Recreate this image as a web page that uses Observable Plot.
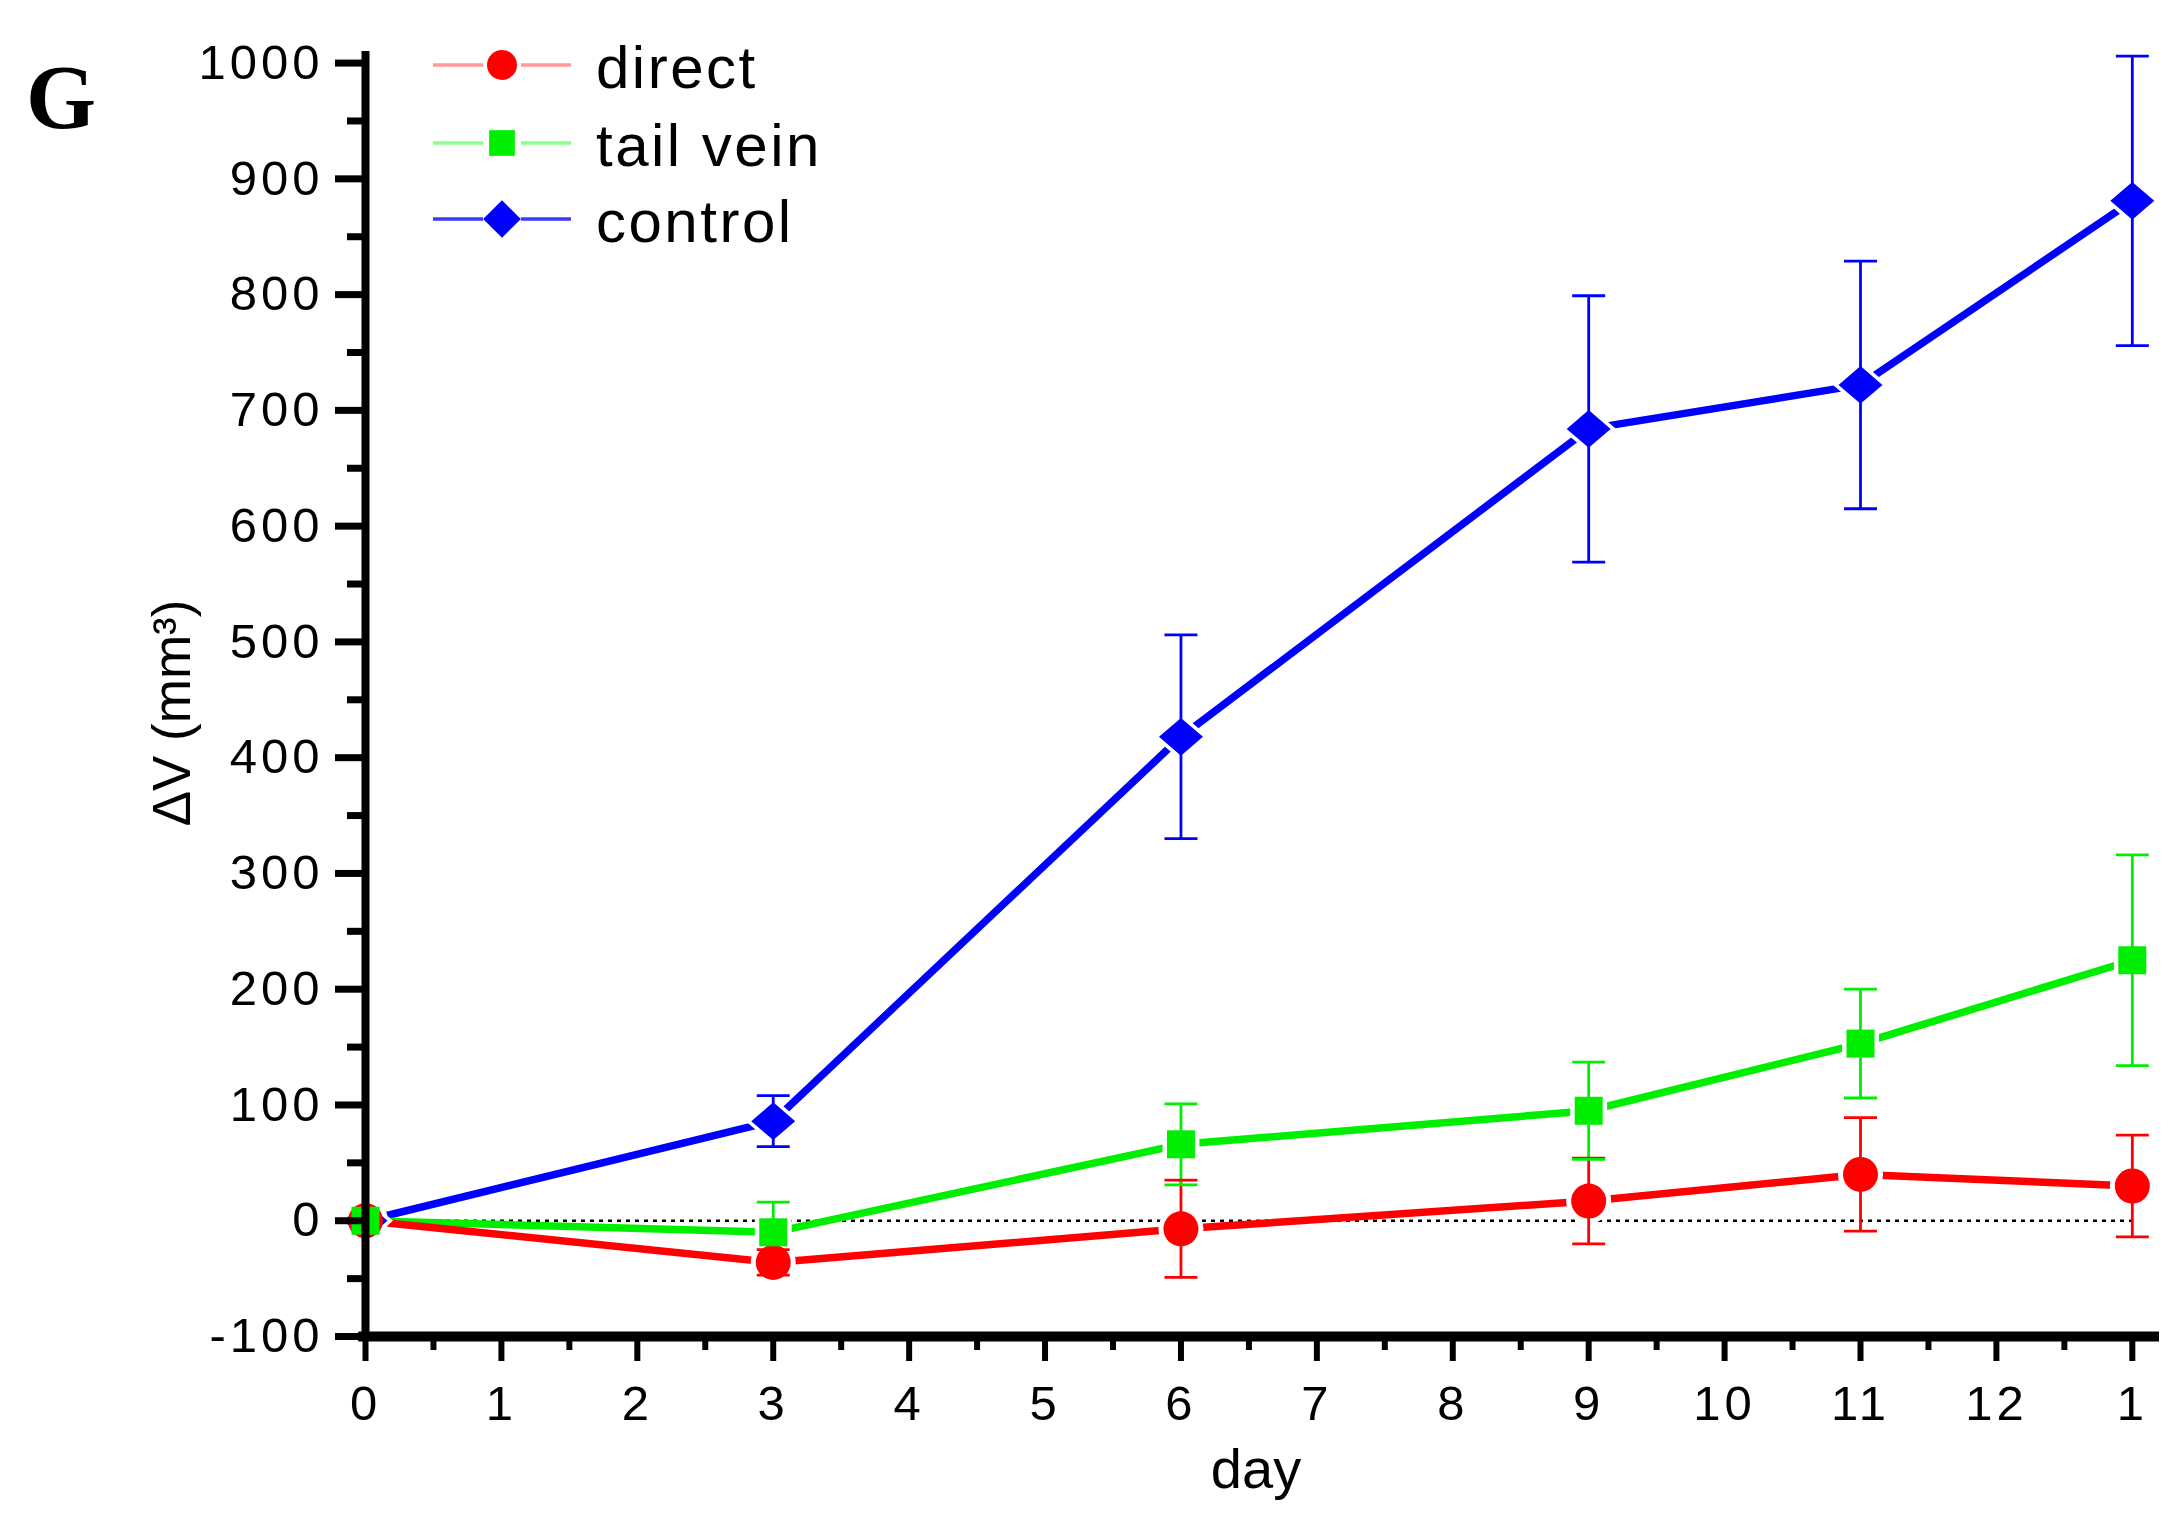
<!DOCTYPE html>
<html><head><meta charset="utf-8">
<script src="https://cdn.jsdelivr.net/npm/d3@7"></script>
<script src="https://cdn.jsdelivr.net/npm/@observablehq/plot@0.6"></script>
<style>
html,body{margin:0;padding:0;background:#fff;}
#chart{position:relative;width:2175px;height:1520px;}
.ticklbl text{letter-spacing:4px;}
</style></head><body><div id="chart"></div>
<script>
// ---- data ----
const days = [0, 3, 6, 9, 11, 13];
const seriesNames = ["direct", "tail vein", "control"];
const directMean  = [0, -36, -7, 17, 40, 30];
const directErr   = [0, 11, 42, 37, 49, 44];
const tailMean    = [0, -10, 66, 95, 153, 225];
const tailErr     = [0, 26, 35, 42, 47, 91];
const controlMean = [0, 86, 418, 684, 722, 881];
const controlErr  = [0, 22, 88, 115, 107, 125];
const xTicks = [0,1,2,3,4,5,6,7,8,9,10,11,12,13];
const xTickLabels = ["0","1","2","3","4","5","6","7","8","9","10","11","12","1"];
const xMinorTicks = [0.5,1.5,2.5,3.5,4.5,5.5,6.5,7.5,8.5,9.5,10.5,11.5,12.5];
const yTicks = [-100,0,100,200,300,400,500,600,700,800,900,1000];
const yTickLabels = ["-100","0","100","200","300","400","500","600","700","800","900","1000"];
const yMinorTicks = [-50,50,150,250,350,450,550,650,750,850,950];
const yLabel = "ΔV (mm³)";
const xLabel = "day";
const panelLetter = "G";

// ---- styles ----
const seriesColors = ["#ff0000", "#00ee00", "#0000ff"];
const legendLineColors = ["#ff9a9a", "#8cff8c", "#3a3aff"];
// wide diamond (slightly wider than tall, as in the reference)
const wideDiamond = {draw(ctx, size) {
  const w = Math.sqrt(size) * 0.62, h = w * 0.86;
  ctx.moveTo(0, -h); ctx.lineTo(w, 0); ctx.lineTo(0, h); ctx.lineTo(-w, 0); ctx.closePath();
}};
const seriesSymbols = ["circle", "square", wideDiamond];
const seriesR = {"direct": 17.5, "tail vein": 15.8, "control": 20};

const means = [directMean, tailMean, controlMean];
const errs = [directErr, tailErr, controlErr];
const rows = [];
seriesNames.forEach((s, si) => days.forEach((d, i) => rows.push({
  series: s, day: d, mean: means[si][i], err: errs[si][i],
  lo: means[si][i] - errs[si][i], hi: means[si][i] + errs[si][i]
})));
const withErr = rows.filter(d => d.err > 0);
const lineOrder = ["control", "tail vein", "direct"];
const linesRows = lineOrder.flatMap(s => rows.filter(d => d.series === s));
const markerOrder = ["direct", "tail vein", "control"];
const markerRows = markerOrder.flatMap(s => rows.filter(d => d.series === s));

const hline = {draw(ctx, size) { const w = Math.sqrt(size) / 2; ctx.moveTo(-w, 0); ctx.lineTo(w, 0); }};

const font = "'Liberation Sans', Arial, Helvetica, sans-serif";

const plot = Plot.plot({
  width: 2175, height: 1520,
  marginLeft: 365, marginRight: 16, marginTop: 51, marginBottom: 184,
  style: {fontFamily: font, background: "#fff", color: "#000"},
  x: {domain: [0, 13.2], axis: null},
  y: {domain: [-100, 1010], axis: null},
  color: {domain: seriesNames, range: seriesColors},
  symbol: {domain: seriesNames, range: seriesSymbols},
  r: {type: "identity"},
  marks: [
    Plot.ruleY([0], {x1: 0, x2: 13, stroke: "#000", strokeWidth: 2.6, strokeDasharray: "4,5"}),
    Plot.line(linesRows, {x: "day", y: "mean", z: "series", stroke: "series", strokeWidth: 7.5}),
    Plot.dot(markerRows, {x: "day", y: "mean", symbol: "series", fill: "#fff", r: d => seriesR[d.series] + 5}),
    Plot.ruleX(withErr, {x: "day", y1: "lo", y2: "hi", stroke: "series", strokeWidth: 2.8}),
    Plot.dot(withErr, {x: "day", y: "hi", symbol: hline, stroke: "series", fill: "none", strokeWidth: 2.8, r: 18.6}),
    Plot.dot(withErr, {x: "day", y: "lo", symbol: hline, stroke: "series", fill: "none", strokeWidth: 2.8, r: 18.6}),
    Plot.dot(markerRows, {x: "day", y: "mean", symbol: "series", fill: "series", stroke: "none", r: d => seriesR[d.series]}),
    // axes
    Plot.axisY({ticks: yMinorTicks, tickSize: 18, strokeWidth: 7, text: null, label: null}),
    Plot.axisY({ticks: yTicks, tickSize: 30, tickPadding: 12, strokeWidth: 7, fontSize: 49, label: null,
      tickFormat: d => yTickLabels[yTicks.indexOf(d)], className: "ticklbl"}),
    Plot.axisX({ticks: xMinorTicks, tickSize: 14, strokeWidth: 6, text: null, label: null}),
    Plot.axisX({ticks: xTicks, tickSize: 25, tickPadding: 24, strokeWidth: 6, fontSize: 49, label: null,
      tickFormat: d => xTickLabels[xTicks.indexOf(d)], className: "ticklbl"}),
    Plot.ruleX([0], {stroke: "#000", strokeWidth: 8}),
    Plot.ruleY([-100], {x1: -0.05, x2: 13.2, stroke: "#000", strokeWidth: 10})
  ]
});
document.getElementById("chart").appendChild(plot);

// ---- annotations: panel letter, axis titles, legend ----
const svg = d3.select(plot);
svg.append("text").attr("x", 26).attr("y", 128).attr("text-anchor", "start")
  .attr("font-family", "'Liberation Serif', 'Times New Roman', serif").attr("font-weight", "bold")
  .attr("font-size", 90).attr("fill", "#000").text(panelLetter);

svg.append("text").attr("transform", "translate(190,713) rotate(-90)")
  .attr("text-anchor", "middle").attr("font-family", font).attr("font-size", 53)
  .attr("fill", "#000").text(yLabel);

svg.append("text").attr("x", 1256).attr("y", 1488)
  .attr("text-anchor", "middle").attr("font-family", font).attr("font-size", 56)
  .attr("fill", "#000").text(xLabel);

const legend = svg.append("g");
const legendY = [65, 143, 219];
const legendSymbolSize = {"direct": 15, "tail vein": 14.5, "control": 17};
seriesNames.forEach((s, i) => {
  const g = legend.append("g").attr("transform", `translate(0,${legendY[i]})`);
  g.append("line").attr("x1", 433).attr("x2", 483).attr("y1", 0).attr("y2", 0)
    .attr("stroke", legendLineColors[i]).attr("stroke-width", 3.5);
  g.append("line").attr("x1", 521).attr("x2", 571).attr("y1", 0).attr("y2", 0)
    .attr("stroke", legendLineColors[i]).attr("stroke-width", 3.5);
  const symType = [d3.symbolCircle, d3.symbolSquare, d3.symbolDiamond2][i];
  const r = legendSymbolSize[s];
  g.append("path").attr("transform", "translate(502,0)")
    .attr("d", d3.symbol(symType, Math.PI * r * r)())
    .attr("fill", seriesColors[i]);
  g.append("text").attr("x", 596).attr("y", 23).attr("text-anchor", "start")
    .attr("font-family", font).attr("font-size", 60).attr("letter-spacing", "2.5px")
    .attr("fill", "#000").text(s);
});
</script>
</body></html>
